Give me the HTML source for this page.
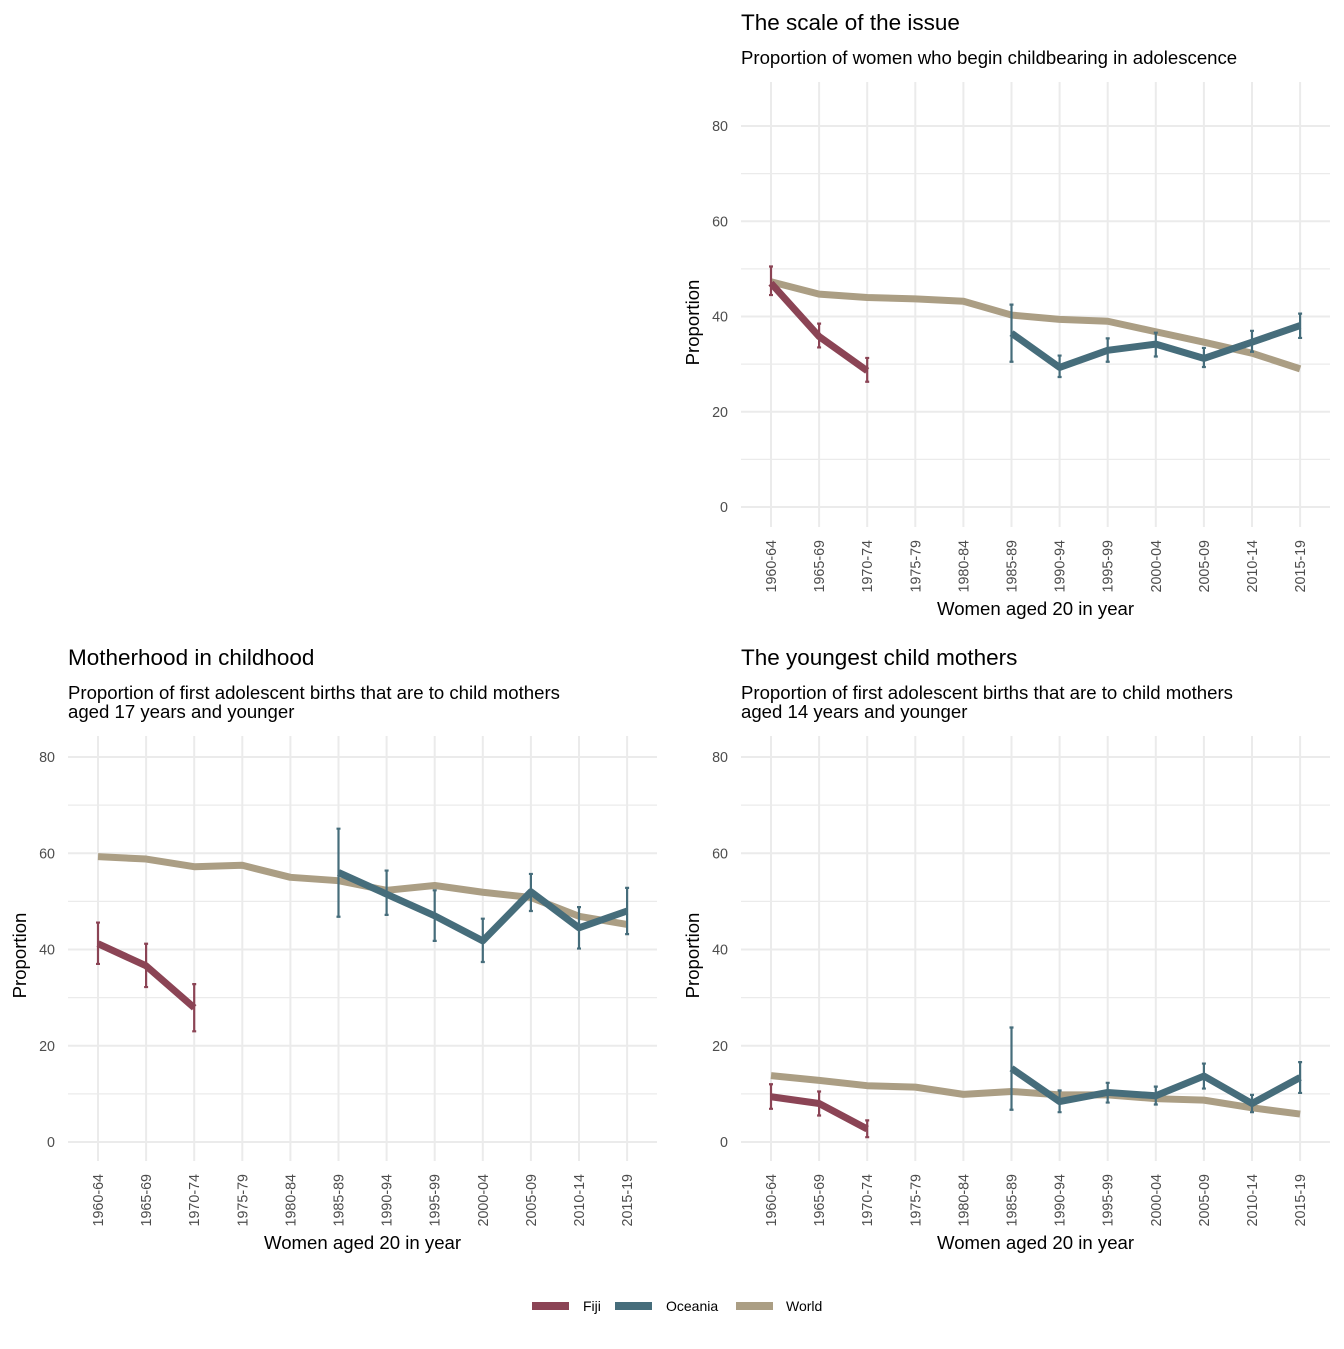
<!DOCTYPE html>
<html><head><meta charset="utf-8"><style>
body{margin:0;background:#fff;}
svg text{font-family:"Liberation Sans",Arial,sans-serif;}
</style></head><body>
<svg id="c" width="1344" height="1344" xmlns="http://www.w3.org/2000/svg"></svg>
<script>
const categories=["1960-64","1965-69","1970-74","1975-79","1980-84","1985-89","1990-94","1995-99","2000-04","2005-09","2010-14","2015-19"];
const yTicks=[0,20,40,60,80];
// Panel 1: scale of the issue
const p1Fiji=[47,35.8,28.6];
const p1FijiLo=[44.5,33.5,26.3];
const p1FijiHi=[50.5,38.5,31.3];
const p1Oce=[36.5,29.3,32.9,34.2,31.2,34.6,38.1];
const p1OceLo=[30.5,27.3,30.5,31.6,29.4,32.6,35.5];
const p1OceHi=[42.5,31.8,35.4,36.6,33.4,37,40.6];
const p1World=[47.3,44.7,44,43.7,43.2,40.3,39.4,39,36.8,34.6,32.3,29];
// Panel 2: motherhood in childhood
const p2Fiji=[41.2,36.6,27.9];
const p2FijiLo=[37,32.2,23];
const p2FijiHi=[45.6,41.2,32.8];
const p2Oce=[56,51.5,47,41.8,52,44.5,48];
const p2OceLo=[46.8,47.2,41.8,37.4,48,40.2,43.2];
const p2OceHi=[65.1,56.4,52.3,46.4,55.7,48.8,52.8];
const p2World=[59.3,58.8,57.2,57.5,55,54.3,52.3,53.3,51.9,50.8,46.9,45.2];
// Panel 3: youngest child mothers
const p3Fiji=[9.4,8,2.7];
const p3FijiLo=[6.9,5.5,1];
const p3FijiHi=[12,10.5,4.5];
const p3Oce=[15.3,8.4,10.3,9.6,13.7,8,13.4];
const p3OceLo=[6.7,6.2,8.2,7.8,11.1,6.2,10.2];
const p3OceHi=[23.8,10.7,12.3,11.5,16.3,9.8,16.6];
const p3World=[13.8,12.8,11.7,11.4,9.9,10.5,9.8,9.8,9,8.7,7.1,5.8];

const COL={Fiji:"#8b4455",Oceania:"#466d7b",World:"#ab9e84"};
const svg=document.getElementById('c');
const NS="http://www.w3.org/2000/svg";
function mk(tag,attrs,parent){const e=document.createElementNS(NS,tag);for(const k in attrs)e.setAttribute(k,attrs[k]);(parent||svg).appendChild(e);return e;}

function panel(o){
  const g=mk('g',{});
  
  
  const x0=o.x0,step=48.1,y0=o.y0,py=o.y80;
  const xs=i=>x0+i*step;
  const ys=v=>y0+(py-y0)*v/80;
  const gl=o.left, gr=o.left+589, gt=o.gt, gb=o.gb;
  for(let v=0;v<=90;v+=10){const y=ys(v);if(y<gt)continue;
    const l=mk('line',{x1:gl,x2:gr,y1:y,y2:y,stroke:"#ebebeb","stroke-width":v%20==0?2:1.3},g);
    }
  categories.forEach((c,i)=>{const l=mk('line',{x1:xs(i),x2:xs(i),y1:gt,y2:gb,stroke:"#ebebeb","stroke-width":2},g);
    
    const t=mk('text',{x:0,y:0,"font-size":14.3,fill:"#4d4d4d","text-anchor":"end",transform:`translate(${xs(i)+5},${gb+13}) rotate(-90)`},g);
    t.textContent=c;});
  yTicks.forEach(v=>{const t=mk('text',{x:gl-13,y:ys(v)+5,"font-size":14.3,fill:"#4d4d4d","text-anchor":"end"},g);
    t.textContent=v;});
  const line=(vals,start,col,nm)=>{const pts=vals.map((v,i)=>xs(i+start)+','+ys(v)).join(' ');
    const p=mk('polyline',{points:pts,fill:"none",stroke:col,"stroke-width":7,"stroke-linejoin":"round"},g);
    };
  const err=(lo,hi,start,col,nm)=>{lo.forEach((l,i)=>{const x=xs(i+start);
    const p=mk('path',{d:`M${x},${ys(l)}V${ys(hi[i])}M${x-2},${ys(l)}h4M${x-2},${ys(hi[i])}h4`,stroke:col,"stroke-width":2.2,fill:"none"},g);
    });};
  line(o.world,0,COL.World,'world-line');
  line(o.oce,5,COL.Oceania,'oceania-line');
  line(o.fiji,0,COL.Fiji,'fiji-line');
  err(o.fLo,o.fHi,0,COL.Fiji,'fiji-error-bar');
  err(o.oLo,o.oHi,5,COL.Oceania,'oceania-error-bar');
  let t=mk('text',{x:gl,y:o.titleY,"font-size":22.5,fill:"#000"},g);t.textContent=o.title;
  
  o.sub.forEach((s,k)=>{const u=mk('text',{x:gl,y:o.titleY+34+k*19,"font-size":18.6,fill:"#000"},g);u.textContent=s;
    });
  t=mk('text',{x:0,y:0,"font-size":18.6,"text-anchor":"middle",transform:`translate(${gl-42},${(ys(0)+ys(80))/2+6}) rotate(-90)`},g);
  t.textContent="Proportion";
  t=mk('text',{x:(xs(0)+xs(11))/2,y:gb+88,"font-size":18.6,"text-anchor":"middle"},g);
  t.textContent="Women aged 20 in year";
}
panel({name:'panel-scale-of-issue',x0:771,left:741,y0:507,y80:126,gt:82,gb:527,titleY:30,
  title:"The scale of the issue",sub:["Proportion of women who begin childbearing in adolescence"],
  fiji:p1Fiji,fLo:p1FijiLo,fHi:p1FijiHi,oce:p1Oce,oLo:p1OceLo,oHi:p1OceHi,world:p1World});
panel({name:'panel-motherhood-in-childhood',x0:98,left:68,y0:1142,y80:757,gt:736,gb:1161,titleY:665,
  title:"Motherhood in childhood",sub:["Proportion of first adolescent births that are to child mothers","aged 17 years and younger"],
  fiji:p2Fiji,fLo:p2FijiLo,fHi:p2FijiHi,oce:p2Oce,oLo:p2OceLo,oHi:p2OceHi,world:p2World});
panel({name:'panel-youngest-child-mothers',x0:771,left:741,y0:1142,y80:757,gt:736,gb:1161,titleY:665,
  title:"The youngest child mothers",sub:["Proportion of first adolescent births that are to child mothers","aged 14 years and younger"],
  fiji:p3Fiji,fLo:p3FijiLo,fHi:p3FijiHi,oce:p3Oce,oLo:p3OceLo,oHi:p3OceHi,world:p3World});
const leg=[["Fiji",532,583],["Oceania",615,666],["World",736,786]];
leg.forEach(([n,x,tx])=>{const g=mk('g',{});
  
  mk('line',{x1:x,x2:x+37,y1:1306,y2:1306,stroke:COL[n],"stroke-width":8},g);
  const t=mk('text',{x:tx,y:1311,"font-size":14},g);t.textContent=n;});
</script>
</body></html>
